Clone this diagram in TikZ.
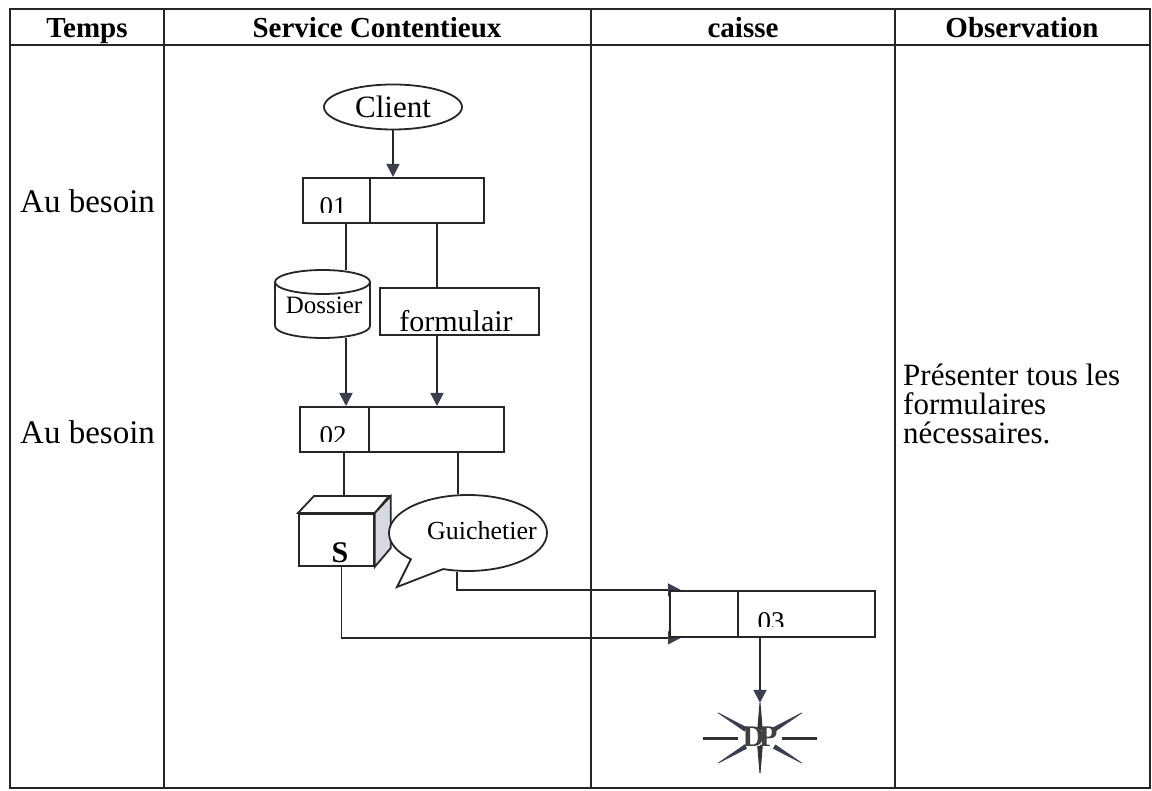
\documentclass[tikz,border=0pt]{standalone}
\usepackage{fontspec}
\setmainfont{Liberation Serif}
\usetikzlibrary{shapes.geometric,shapes.callouts,arrows.meta,calc}
\pgfdeclarelayer{bg}
\pgfsetlayers{bg,main}
\definecolor{tipgray}{RGB}{58,62,78}
\definecolor{sidegray}{RGB}{214,216,226}
\newcommand\fsz[1]{\fontsize{#1}{#1}\selectfont}

\begin{document}
\begin{tikzpicture}[x=1pt,y=-1pt,
  grid/.style={line width=1.6pt, draw=black!85},
  flow/.style={line width=1.8pt, draw=black!85},
  arr/.style={flow, -{Triangle[length=13pt,width=13pt,color=tipgray,fill=tipgray]}},
  cell/.style={flow, fill=white, minimum height=45, inner sep=0, anchor=north west},
  head/.style={font=\bfseries\fsz{29}, anchor=base},
  body/.style={font=\fsz{33}, inner sep=0},
  obs/.style={font=\fsz{31}, inner sep=0, anchor=base west},
  num/.style={font=\fsz{27}, anchor=base, inner sep=0}]

\useasboundingbox (0,0) rectangle (1152,791);

% table frame
\draw[grid] (10,9) rectangle (1150,788);
\draw[grid] (10,45) -- (1150,45);
\foreach \cx in {164,591,895} \draw[grid] (\cx,9) -- (\cx,788);

\node[head] (h1) at (87,38) {Temps};
\node[head] (h2) at (377,38) {Service Contentieux};
\node[head] (h3) at (743,38) {caisse};
\node[head] (h4) at (1022,38) {Observation};

\node[body, anchor=base west] (t1) at (20,213) {Au besoin};
\node[body, anchor=base west] (t2) at (20,444) {Au besoin};
\node[obs] (o1) at (903,386) {Présenter tous les};
\node[obs] (o2) at (903,415) {formulaires};
\node[obs] (o3) at (903,444) {nécessaires.};

% client
\node[ellipse, flow, fill=white, minimum width=138, minimum height=45, inner sep=0,
  font=\fsz{31}] (client) at (393,107) {Client};

% operation 01
\node[cell, minimum width=67] (b01a) at (302,177) {};
\node[cell, minimum width=114] (b01b) at (369,177) {};
\begin{scope}
  \clip (b01a.north west) rectangle ([yshift=11pt]b01a.south east);
  \node[num] (n01) at (333,216) {01};
\end{scope}

% dossier (cylinder)
\node[minimum width=95, minimum height=68, inner sep=0] (dos) at (322.5,304) {};
\draw[flow, fill=white] (275,282) -- (275,326) arc[start angle=180, end angle=360,
  x radius=47.5pt, y radius=12pt] -- (370,282);
\draw[flow] (322.5,282) ellipse[x radius=47.5pt, y radius=12pt];
\node[font=\fsz{25}] (dostxt) at (324,305) {Dossier};

% formulaire
\node[cell, minimum width=159, minimum height=47] (form) at (379,287) {};
\begin{scope}
  \clip (form.north west) rectangle ([yshift=3pt]form.south east);
  \node[font=\fsz{30}, anchor=base, inner sep=0] (formtxt) at (456,332) {formulair};
\end{scope}

% operation 02
\node[cell, minimum width=69] (b02a) at (299,406) {};
\node[cell, minimum width=135] (b02b) at (368,406) {};
\begin{scope}
  \clip (b02a.north west) rectangle ([yshift=11pt]b02a.south east);
  \node[num] (n02) at (333,445) {02};
\end{scope}

% classement (cube)
\node[flow, fill=white, minimum width=75, minimum height=52, inner sep=0,
  anchor=north west] (cube) at (298,513) {};
\draw[flow, fill=white] (cube.north west) -- ++(16,-17) -- ++(75,0) -- (cube.north east) -- cycle;
\draw[flow, fill=sidegray] (cube.north east) -- ++(16,-17) -- ++(0,52) -- (cube.south east) -- cycle;
\node[font=\bfseries\fsz{30}, anchor=base, inner sep=0] (s) at (340,562) {S};

% guichetier (callout)
\node[ellipse callout, flow, fill=white, minimum width=158, minimum height=76, inner sep=0,
  callout pointer arc=28, callout absolute pointer={(397,587)}] (gui) at (468,533) {};
\node[font=\fsz{26}] (guitxt) at (482,531) {Guichetier};

% operation 03
\node[cell, minimum width=68, minimum height=46] (b03a) at (669,590) {};
\node[cell, minimum width=137, minimum height=46] (b03b) at (737,590) {};
\begin{scope}
  \clip (b03b.north west) rectangle ([yshift=11pt]b03b.south east);
  \node[num] (n03) at (771,630) {03};
\end{scope}

% DP burst
\node[minimum width=114, minimum height=70, inner sep=0] (star) at (760,738) {};
\foreach \a in {0,180}
  \draw[line width=3pt, black!80] ($(star.center)+(\a:22pt)$) -- ($(star.center)+(\a:57pt)$);
\foreach \a in {31,149,211,329}
  \filldraw[tipgray, line width=0.6pt] ($(star.center)+(\a+7:17pt)$) -- ($(star.center)+(\a:49pt)$)
    -- ($(star.center)+(\a-7:17pt)$) -- cycle;
\foreach \a in {90,270}
  \draw[fill=white, line width=1pt, black!80] ($(star.center)+(\a+14:9pt)$) -- ($(star.center)+(\a:35pt)$)
    -- ($(star.center)+(\a-14:9pt)$) -- cycle;
\node[font=\bfseries\fsz{30}, text=black!75, inner sep=0] (dp) at (760,737) {D\kern-5pt P};

% connectors
\draw[arr] (client.south) -- (b01a.north east -| client.south);
\draw[flow] (b01a.south -| 346,0) -- (dos.north -| 346,0);
\draw[flow] (b01b.south -| 437,0) -- (form.north -| 437,0);
\draw[arr] (dos.south -| 346,0) -- (b02a.north -| 346,0);
\draw[arr] (form.south -| 437,0) -- (b02b.north -| 437,0);
\draw[flow] (b02a.south -| 344,0) -- ([yshift=17pt]cube.north -| 344,0);
\draw[flow] (b02b.south -| 458,0) -- (gui.north -| 458,0);
\begin{pgfonlayer}{bg}
  \draw[arr, shorten >=-12pt] ([xshift=-11pt]gui.south) |- (b03a.north west);
  \draw[arr, shorten >=-12pt] ([xshift=5pt]cube.south) |- (b03a.south west);
\end{pgfonlayer}
\draw[arr] (b03b.south -| star.north) -- (star.north);

\end{tikzpicture}
\end{document}
